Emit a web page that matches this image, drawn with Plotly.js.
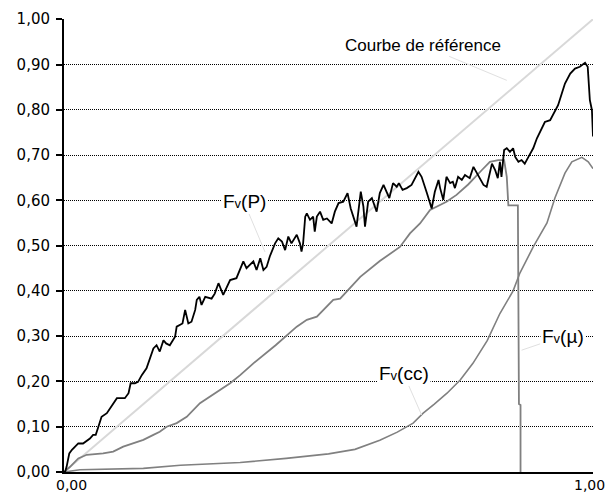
<!DOCTYPE html>
<html>
<head>
<meta charset="utf-8">
<script src="https://cdn.plot.ly/plotly-3.0.1.min.js"></script>
<style>html,body{margin:0;padding:0;background:#fff;}#chart{width:608px;height:494px;}</style>
</head>
<body>
<div id="chart"></div>
<script>
// Reference curve (diagonal)
const refX = [0, 1];
const refY = [0, 1];

// Fv(P) - black jagged curve
const fvPX = [0,0.002,0.005,0.010,0.015,0.027,0.036,0.049,0.055,0.060,0.065,0.071,0.081,0.093,0.100,0.115,0.122,0.126,0.134,0.140,0.147,0.156,0.163,0.169,0.175,0.181,0.188,0.193,0.200,0.210,0.213,0.219,0.224,0.229,0.235,0.241,0.248,0.251,0.256,0.260,0.267,0.279,0.285,0.292,0.298,0.301,0.308,0.314,0.326,0.333,0.339,0.345,0.352,0.358,0.364,0.371,0.377,0.383,0.389,0.399,0.405,0.412,0.418,0.424,0.430,0.440,0.446,0.449,0.452,0.456,0.459,0.465,0.471,0.474,0.478,0.484,0.490,0.497,0.506,0.512,0.519,0.528,0.536,0.542,0.553,0.561,0.566,0.569,0.575,0.582,0.591,0.597,0.604,0.610,0.615,0.622,0.629,0.633,0.640,0.648,0.657,0.670,0.676,0.686,0.695,0.701,0.708,0.711,0.717,0.723,0.730,0.735,0.739,0.745,0.752,0.758,0.767,0.774,0.783,0.793,0.799,0.809,0.815,0.820,0.824,0.827,0.832,0.837,0.843,0.849,0.853,0.859,0.865,0.871,0.878,0.887,0.894,0.900,0.909,0.919,0.928,0.934,0.941,0.947,0.957,0.966,0.975,0.985,0.990,0.992,0.994,0.998,1.000];
const fvPY = [0,0.000,0.012,0.041,0.049,0.063,0.063,0.074,0.082,0.082,0.100,0.122,0.130,0.152,0.163,0.163,0.174,0.196,0.196,0.199,0.214,0.229,0.255,0.273,0.280,0.266,0.291,0.284,0.280,0.299,0.321,0.325,0.328,0.358,0.328,0.332,0.358,0.380,0.387,0.369,0.387,0.383,0.394,0.417,0.402,0.391,0.409,0.424,0.428,0.446,0.465,0.450,0.457,0.465,0.446,0.472,0.446,0.453,0.476,0.505,0.516,0.509,0.490,0.520,0.505,0.524,0.505,0.487,0.505,0.564,0.571,0.557,0.564,0.531,0.564,0.575,0.557,0.560,0.549,0.575,0.594,0.597,0.616,0.582,0.542,0.619,0.586,0.542,0.597,0.605,0.575,0.616,0.634,0.619,0.605,0.638,0.630,0.638,0.623,0.627,0.634,0.663,0.652,0.616,0.582,0.619,0.645,0.627,0.601,0.652,0.638,0.641,0.627,0.652,0.645,0.656,0.649,0.674,0.656,0.634,0.630,0.681,0.667,0.649,0.685,0.652,0.711,0.715,0.707,0.715,0.696,0.685,0.689,0.681,0.696,0.715,0.737,0.752,0.773,0.777,0.799,0.810,0.836,0.858,0.880,0.891,0.895,0.904,0.895,0.866,0.822,0.799,0.741];

// Fv(mu) - gray concave curve with drop
const fvMuX = [0,0.011,0.027,0.043,0.074,0.093,0.112,0.131,0.150,0.169,0.181,0.194,0.213,0.232,0.244,0.257,0.314,0.333,0.358,0.400,0.440,0.459,0.478,0.497,0.509,0.522,0.560,0.597,0.635,0.654,0.673,0.692,0.705,0.723,0.742,0.764,0.790,0.805,0.821,0.832,0.837,0.840,0.858,0.860,0.863,0.863];
const fvMuY = [0,0.011,0.030,0.038,0.041,0.045,0.056,0.063,0.071,0.082,0.089,0.100,0.108,0.122,0.137,0.152,0.196,0.214,0.240,0.280,0.321,0.336,0.343,0.365,0.380,0.383,0.431,0.466,0.497,0.527,0.549,0.579,0.586,0.597,0.612,0.635,0.667,0.685,0.689,0.689,0.652,0.589,0.589,0.150,0.148,0];

// Fv(cc) - gray convex curve
const fvCcX = [0,0.030,0.150,0.220,0.333,0.420,0.500,0.550,0.597,0.630,0.660,0.679,0.700,0.724,0.749,0.773,0.800,0.824,0.849,0.862,0.887,0.913,0.928,0.947,0.960,0.979,0.991,1.000];
const fvCcY = [0,0.005,0.008,0.015,0.021,0.030,0.040,0.050,0.070,0.088,0.108,0.130,0.150,0.174,0.203,0.240,0.290,0.350,0.400,0.440,0.497,0.550,0.605,0.660,0.685,0.695,0.685,0.670];

// Ticks
const yTickVals = [0,0.1,0.2,0.3,0.4,0.5,0.6,0.7,0.8,0.9,1.0];
const xTickVals = [0, 1];
const xTickLabels = ['0,00', '1,00'];

const small = s => 'F<span style="font-size:13px">v</span>' + s;

const traces = [
  {x: refX, y: refY, mode: 'lines', line: {color: '#d8d8d8', width: 2}, hoverinfo: 'skip'},
  {x: fvCcX, y: fvCcY, mode: 'lines', line: {color: '#808080', width: 1.6}},
  {x: fvMuX, y: fvMuY, mode: 'lines', line: {color: '#808080', width: 1.8}},
  {x: fvPX, y: fvPY, mode: 'lines', line: {color: '#000000', width: 1.8}}
];

const labelFont = {family: 'Liberation Sans, Arial, sans-serif', size: 19, color: '#000'};
const arrowCommon = {showarrow: true, arrowhead: 0, arrowwidth: 1, arrowcolor: '#e0e0e0', font: labelFont, bgcolor: '#ffffff', borderpad: 1};

const annotations = [
  Object.assign({}, arrowCommon, {x: 0.837, y: 0.865, ax: -84, ay: -35, text: 'Courbe de référence', bgcolor: 'rgba(0,0,0,0)', font: {family: 'Liberation Sans, Arial, sans-serif', size: 17, color: '#000'}}),
  Object.assign({}, arrowCommon, {x: 0.380, y: 0.486, ax: -21, ay: -50, text: small('(P)')}),
  Object.assign({}, arrowCommon, {x: 0.865, y: 0.269, ax: 41, ay: -14, text: small('(\u00b5)')}),
  Object.assign({}, arrowCommon, {x: 0.676, y: 0.126, ax: -18, ay: -41, text: small('(cc)')})
];
// x tick labels
const xTickFont = {family: 'DejaVu Sans, sans-serif', size: 14, color: '#000'};
annotations.push({xref: 'paper', yref: 'paper', x: xTickVals[0] + 0.015, y: 0, yanchor: 'middle', xanchor: 'center', yshift: -13, borderpad: 0, showarrow: false, text: xTickLabels[0], font: xTickFont});
annotations.push({xref: 'paper', yref: 'paper', x: xTickVals[1] - 0.006, y: 0, yanchor: 'middle', xanchor: 'center', yshift: -13, borderpad: 0, showarrow: false, text: xTickLabels[1], font: xTickFont});

const layout = {
  width: 608, height: 494,
  margin: {l: 64, r: 15, t: 19, b: 22, pad: 0},
  paper_bgcolor: '#fff', plot_bgcolor: '#fff',
  separators: ', ',
  showlegend: false,
  xaxis: {
    range: [0, 1], showgrid: false, zeroline: false,
    showline: true, linecolor: '#000', linewidth: 2,
    tickvals: xTickVals, showticklabels: false, ticks: '',
    fixedrange: true
  },
  yaxis: {
    range: [0, 1.0005], showgrid: true, gridcolor: '#000', gridwidth: 1, griddash: '1px,1px',
    zeroline: false, showline: true, linecolor: '#000', linewidth: 2,
    tickvals: yTickVals, tickformat: '.2f', ticks: 'outside', ticklen: 6, tickwidth: 2, tickcolor: '#000',
    ticklabelstandoff: 3,
    tickfont: {family: 'DejaVu Sans, sans-serif', size: 15, color: '#000'},
    fixedrange: true
  },
  annotations: annotations
};

Plotly.newPlot('chart', traces, layout, {staticPlot: true, displayModeBar: false});
</script>
</body>
</html>
